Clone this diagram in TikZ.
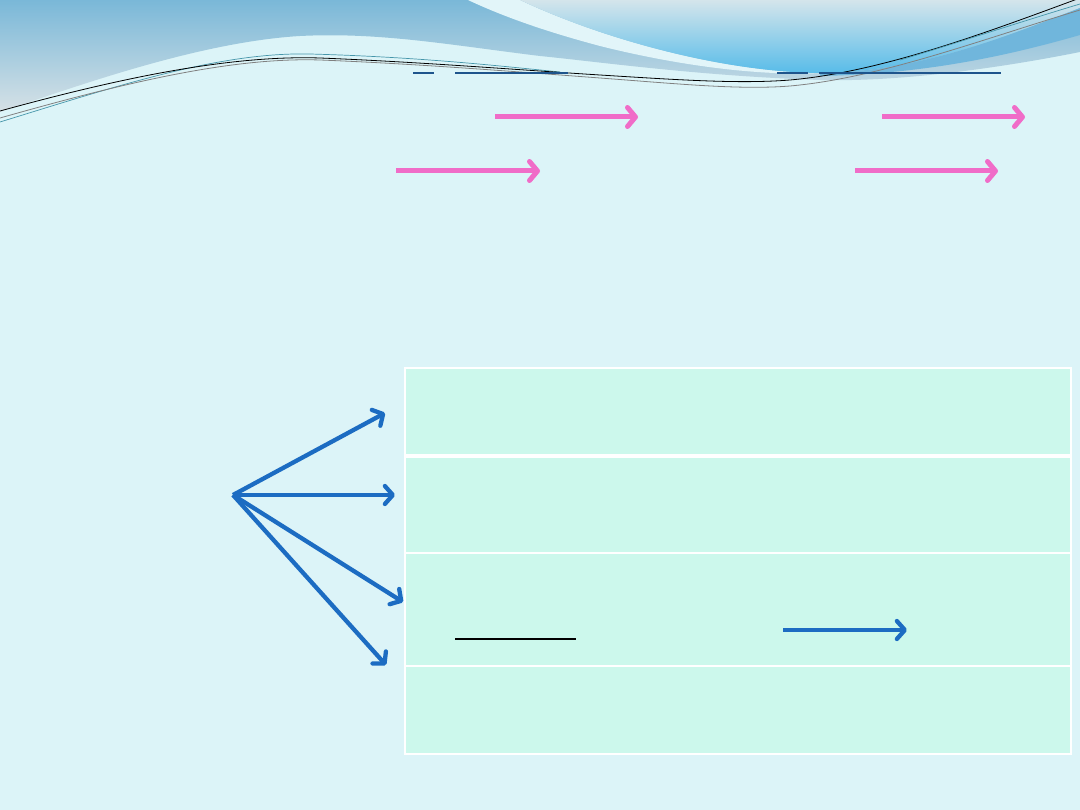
\documentclass[tikz,border=0pt]{standalone}
\usetikzlibrary{arrows.meta}
\definecolor{slidebg}{RGB}{220,244,248}
\definecolor{hdtop}{RGB}{122,184,216}
\definecolor{hdbot}{RGB}{214,225,230}
\definecolor{streak}{RGB}{226,245,249}
\definecolor{bubtop}{RGB}{212,229,235}
\definecolor{bubbot}{RGB}{88,188,233}
\definecolor{bandblue}{RGB}{112,182,220}
\definecolor{tealline}{RGB}{70,150,170}
\definecolor{rulecol}{RGB}{30,84,140}
\definecolor{pinkarr}{RGB}{240,108,200}
\definecolor{bluearr}{RGB}{28,108,194}
\definecolor{mint}{RGB}{204,248,236}
\tikzset{
  pinkarrow/.style={pinkarr, line width=5pt, -{Straight Barb[length=8pt,width=19pt,round]}},
  bluearrow/.style={bluearr, line width=4.3pt, -{Straight Barb[length=8pt,width=18pt,round]}},
  rowbox/.style={fill=mint, draw=white, line width=2pt, minimum width=666pt, inner sep=0pt, outer sep=0pt},
  titlerule/.style={rulecol, line width=2.2pt}
}
\begin{document}
\begin{tikzpicture}[x=1pt,y=-1pt]
        \fill[slidebg] (0,0) rectangle (1080,810);
        \useasboundingbox (0,0) rectangle (1080,810);
        \shade[top color=hdtop, bottom color=hdbot] (0,0) -- (1080,0) -- (1080,52) .. controls (1000,68) and (900,82) .. (820,80) .. controls (700,76) and (600,62) .. (540,56) .. controls (450,45) and (380,32) .. (300,36) .. controls (200,42) and (80,85) .. (0,112) -- cycle;
        \fill[streak] (468,0) -- (520,0) .. controls (600,38) and (720,72) .. (820,73) .. controls (760,76) and (680,66) .. (600,46) .. controls (540,30) and (500,15) .. (468,0) -- cycle;
        \shade[top color=bubtop, bottom color=bubbot] (520,0) .. controls (600,38) and (720,72) .. (820,73) .. controls (920,72) and (1010,35) .. (1080,8) -- (1080,0) -- cycle;
        \fill[bandblue] (820,73) .. controls (920,72) and (1010,35) .. (1080,8) -- (1080,35) .. controls (1000,58) and (920,74) .. (820,76) -- cycle;
        \draw[tealline, line width=0.7pt] (0,122) .. controls (120,85) and (220,52) .. (310,54) .. controls (420,57) and (500,66) .. (560,72);
        \draw[gray, line width=0.8pt] (0,118) .. controls (120,84) and (230,57) .. (320,60) .. controls (420,64) and (520,72) .. (600,78) .. controls (680,84) and (740,90) .. (790,86) .. controls (880,78) and (980,40) .. (1080,10);
        \draw[black, line width=0.8pt] (0,111) .. controls (120,78) and (230,55) .. (320,58) .. controls (420,62) and (520,70) .. (600,75) .. controls (680,80) and (740,84) .. (790,80) .. controls (880,72) and (980,35) .. (1080,-2);
        \draw[tealline, line width=0.7pt] (900,60) .. controls (960,42) and (1020,22) .. (1080,4);
        \draw[titlerule] (413,73) -- (434,73);
        \draw[titlerule] (455,73) -- (568,73);
        \draw[titlerule] (777,73) -- (808,73);
        \draw[titlerule] (819,73) -- (1001,73);
        \coordinate (p1s) at (495,117); \coordinate (p1e) at (638,117);
        \coordinate (p2s) at (882,117); \coordinate (p2e) at (1025,117);
        \coordinate (p3s) at (396,171); \coordinate (p3e) at (540,171);
        \coordinate (p4s) at (855,171); \coordinate (p4e) at (998,171);
        \draw[pinkarrow] (p1s) -- (p1e);
        \draw[pinkarrow] (p2s) -- (p2e);
        \draw[pinkarrow] (p3s) -- (p3e);
        \draw[pinkarrow] (p4s) -- (p4e);
        \node[rowbox, minimum height=88pt] (row1) at (737.5,412) {};
        \node[rowbox, minimum height=97pt] (row2) at (737.5,504.5) {};
        \node[rowbox, minimum height=113pt] (row3) at (737.5,609.5) {};
        \node[rowbox, minimum height=88pt] (row4) at (737.5,710) {};
        \draw[white, line width=3.5pt] (row1.south west) -- (row1.south east);
        \coordinate (src) at (233,495);
        \coordinate (t1) at (385,413);
        \coordinate (t2) at (395,495);
        \coordinate (t3) at (403,602);
        \coordinate (t4) at (386,665);
        \foreach \t in {t1,t2,t3,t4}
          \draw[bluearrow] (src) -- (\t);
        \coordinate (u1) at (455,639); \coordinate (u2) at (576,639);
        \draw[black, line width=2pt] (u1) -- (u2);
        \coordinate (b1) at (783,630); \coordinate (b2) at (907,630);
        \draw[bluearrow] (b1) -- (b2);
\end{tikzpicture}
\end{document}
